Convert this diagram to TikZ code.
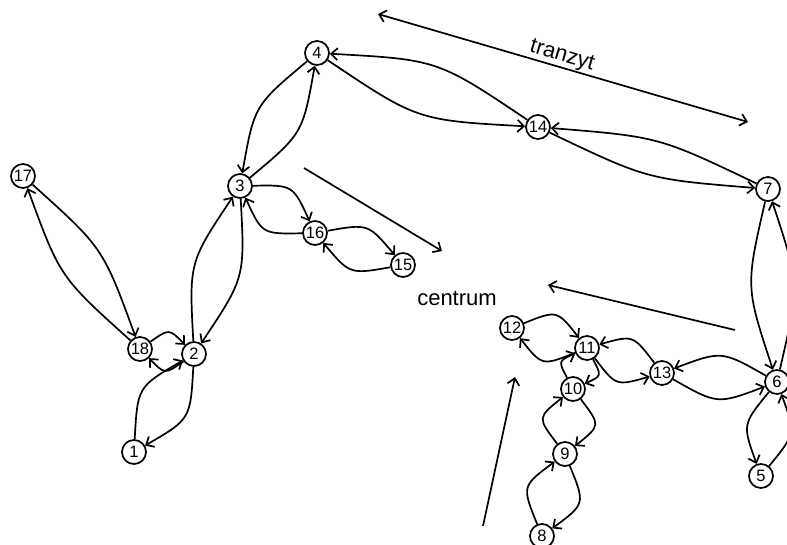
\documentclass[tikz,border=0pt]{standalone}
\usepackage{fontspec}
\setmainfont{Liberation Sans}
\usetikzlibrary{calc,arrows.meta}
\tikzset{
 vtx/.style={circle,draw,line width=1.7pt,fill=white,minimum size=24pt,inner sep=0pt,font=\fontsize{16.5}{16.5}\selectfont},
 edge/.style={line width=1.7pt,-{Straight Barb[length=6.5pt,width=12pt]}},
 darr/.style={line width=1.7pt,{Straight Barb[length=6.5pt,width=12pt]}-{Straight Barb[length=6.5pt,width=12pt]}},
 lbl/.style={font=\fontsize{22}{22}\selectfont},
}
\newcommand\arcedge[3]{\draw[edge] (#1) .. controls ($(#1)!0.5!(#2)!#3!90:(#2)$) .. (#2);}
\begin{document}
\begin{tikzpicture}[x=1pt,y=-1pt]
\useasboundingbox (0,0) rectangle (787,544);
% nodes
\node[vtx] (n1) at (134,452) {1};
\node[vtx] (n2) at (194,354) {2};
\node[vtx] (n3) at (240,186) {3};
\node[vtx] (n4) at (317,53) {4};
\node[vtx] (n5) at (761,476) {5};
\node[vtx] (n6) at (777,382) {6};
\node[vtx] (n7) at (768,189) {7};
\node[vtx] (n8) at (542,536) {8};
\node[vtx] (n9) at (565,454) {9};
\node[vtx] (n10) at (573,389) {10};
\node[vtx] (n11) at (587,348) {11};
\node[vtx] (n12) at (512,328) {12};
\node[vtx] (n13) at (662,373) {13};
\node[vtx] (n14) at (538,127) {14};
\node[vtx] (n15) at (403,265) {15};
\node[vtx] (n16) at (315,233) {16};
\node[vtx] (n17) at (23,176) {17};
\node[vtx] (n18) at (140,349) {18};
% edges
\arcedge{n1}{n2}{31pt}\arcedge{n2}{n1}{31pt}
\arcedge{n2}{n3}{29pt}\arcedge{n3}{n2}{29pt}
\arcedge{n3}{n4}{-28pt}\arcedge{n4}{n3}{-28pt}
\arcedge{n4}{n14}{-32pt}\arcedge{n14}{n4}{-32pt}
\arcedge{n14}{n7}{-22pt}\arcedge{n7}{n14}{-22pt}
\arcedge{n7}{n6}{-27pt}\arcedge{n6}{n7}{-27pt}
\arcedge{n6}{n5}{-27pt}\arcedge{n5}{n6}{-27pt}
\arcedge{n6}{n13}{-27pt}\arcedge{n13}{n6}{-27pt}
\arcedge{n13}{n11}{-27pt}\arcedge{n11}{n13}{-27pt}
\arcedge{n11}{n12}{29pt}\arcedge{n12}{n11}{29pt}
\arcedge{n11}{n10}{23pt}\arcedge{n10}{n11}{23pt}
\arcedge{n10}{n9}{32pt}\arcedge{n9}{n10}{32pt}
\arcedge{n9}{n8}{33pt}\arcedge{n8}{n9}{33pt}
\arcedge{n3}{n16}{29pt}\arcedge{n16}{n3}{29pt}
\arcedge{n16}{n15}{27pt}\arcedge{n15}{n16}{27pt}
\arcedge{n17}{n18}{26pt}\arcedge{n18}{n17}{26pt}
\arcedge{n18}{n2}{23pt}\arcedge{n2}{n18}{23pt}
% free arrows
\coordinate (t1) at (378,14);
\coordinate (t2) at (748,122);
\coordinate (a1) at (304,168);
\coordinate (a2) at (442,251);
\coordinate (b1) at (735,330);
\coordinate (b2) at (548,285);
\coordinate (c1) at (483,526);
\coordinate (c2) at (515,377);
\draw[darr] (t1) -- (t2);
\draw[edge] (a1) -- (a2);
\draw[edge] (b1) -- (b2);
\draw[edge] (c1) -- (c2);
\node[lbl,rotate=-16.3] (tz) at (562,56) {tranzyt};
\node[lbl] (ct) at (457,298) {centrum};
\end{tikzpicture}
\end{document}
